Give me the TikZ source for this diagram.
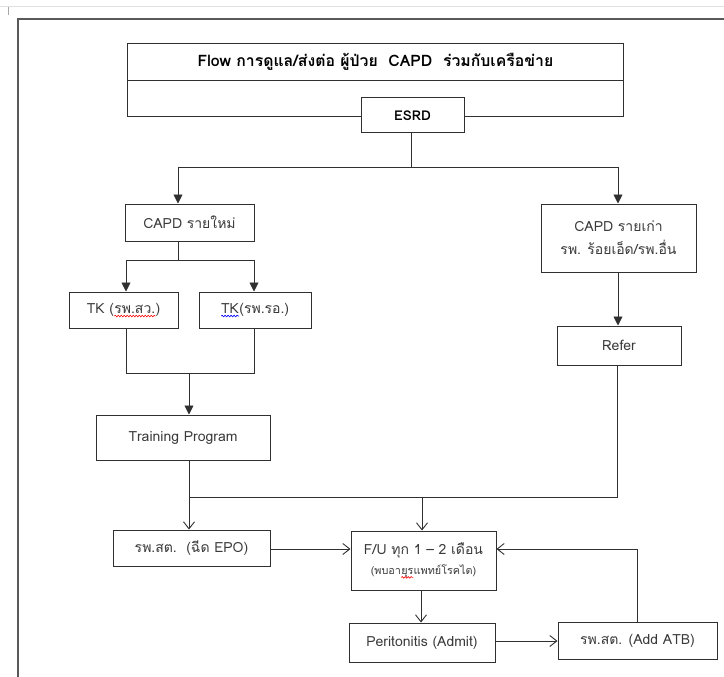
\documentclass[tikz,border=0pt]{standalone}
\usepackage{fontspec}
\setmainfont[Script=Thai]{Loma}
\usetikzlibrary{arrows.meta,decorations.pathmorphing}
\definecolor{ln}{HTML}{303030}
\definecolor{tx}{HTML}{3A3A3A}
\newcommand\spellmark[2]{\tikz[baseline=(sm.base),x=1pt,y=1pt]{\node[inner sep=0pt,outer sep=0pt,draw=none,fill=none,minimum width=0pt,minimum height=0pt](sm){#2};\draw[draw=#1,fill=none,line width=0.6pt,decorate,decoration={snake,amplitude=0.8pt,segment length=3pt}]([yshift=-3pt]sm.base west)--([yshift=-3pt]sm.base east);}}
\tikzset{
  box/.style={draw=ln, line width=1pt, fill=white, inner sep=0pt, text=tx, align=center, font=\fontsize{14}{17}\selectfont},
  conn/.style={draw=ln, line width=0.9pt},
  tri/.style={conn, -{Triangle[length=9pt,width=9pt]}},
  openarr/.style={conn, -{Straight Barb[length=7pt,width=11pt]}}
}
\begin{document}
\begin{tikzpicture}[x=1pt,y=-1pt]
\useasboundingbox (0,0) rectangle (724,677);
% page decoration
\draw[gray!25, line width=1pt] (0,7) coordinate (g0) -- (724,7) coordinate (g1);
\draw[gray!70, line width=0.8pt] (8,7) coordinate (t0) -- (8,15) coordinate (t1);
\draw[gray!70!black, line width=1.1pt] (724,19) coordinate (f0) -- (18,19) coordinate (f1) -- (18,677) coordinate (f2);
% title box
\node[box, minimum width=496pt, minimum height=73pt, anchor=north west] (title) at (127,43) {};
\coordinate (dv) at (0,80);
\draw[conn] (title.west |- dv) -- (title.east |- dv);
\node[text=black, font=\fontsize{15.8}{19}\selectfont\bfseries] (ttl) at (375.5,61.5) {Flow การดูแล/ส่งต่อ ผู้ป่วย\ \ CAPD\ \ ร่วมกับเครือข่าย};
\node[box, font=\fontsize{13.5}{16}\selectfont\bfseries, text=black, minimum width=103pt, minimum height=35pt] (esrd) at (412.5,115.5) {ESRD};
% boxes
\node[box, minimum width=129pt, minimum height=37pt] (capdnew) at (189.5,222.5) {CAPD รายใหม่};
\node[box, minimum width=109pt, minimum height=36pt] (tk1) at (123.5,310) {TK (\spellmark{red}{รพ.สว.})};
\node[box, minimum width=112pt, minimum height=36pt] (tk2) at (255,310) {\spellmark{blue}{TK}(รพ.รอ.)};
\node[box, minimum width=174pt, minimum height=45pt] (training) at (183,437.5) {Training Program};
\node[box, minimum width=155pt, minimum height=68pt] (capdold) at (618.5,238) {CAPD รายเก่า\\[6pt]รพ. ร้อยเอ็ด/รพ.อื่น};
\node[box, minimum width=124pt, minimum height=39pt] (refer) at (619,345.5) {Refer};
\node[box, minimum width=157pt, minimum height=36pt] (epo) at (191.5,548) {รพ.สต.\ \ (ฉีด EPO)};
\node[box, minimum width=145pt, minimum height=59pt] (fu) at (423.5,560.5) {F/U ทุก 1 – 2 เดือน\\[3pt]{\fontsize{10.8}{13}\selectfont (พบอา\spellmark{red}{ยุร}แพทย์โรคไต)}};
\node[box, minimum width=146pt, minimum height=39pt] (perit) at (422,642.5) {Peritonitis (Admit)};
\node[box, minimum width=159pt, minimum height=37pt] (atb) at (637.5,640.5) {รพ.สต. (Add ATB)};
% connectors top
\coordinate (j0) at (411,167);
\coordinate (jL) at (178,167);
\coordinate (jR) at (618,167);
\draw[conn] (esrd.south -| j0) -- (j0);
\draw[conn] (jL) -- (jR);
\draw[tri] (jL) -- (jL |- capdnew.north);
\draw[tri] (jR) -- (jR |- capdold.north);
\coordinate (k0) at (178,260);
\coordinate (kL) at (126,260);
\coordinate (kR) at (254,260);
\draw[conn] (k0 |- capdnew.south) -- (k0);
\draw[conn] (kL) -- (kR);
\draw[tri] (kL) -- (kL |- tk1.north);
\draw[tri] (kR) -- (kR |- tk2.north);
\coordinate (mL) at (126,373);
\coordinate (mR) at (254,373);
\coordinate (m0) at (189,373);
\draw[conn] (mL |- tk1.south) -- (mL) -- (mR) -- (mR |- tk2.south);
\draw[tri] (m0) -- (m0 |- training.north);
\draw[tri] (jR |- capdold.south) -- (jR |- refer.north);
% connectors bottom
\coordinate (pL) at (189,497);
\coordinate (pM) at (422,497);
\coordinate (pR) at (617,497);
\draw[openarr] (pL |- training.south) -- (pL |- epo.north);
\draw[conn] (pL) -- (pR) -- (pR |- refer.south);
\draw[openarr] (pM) -- (pM |- fu.north);
\coordinate (q) at (0,549);
\draw[openarr] (epo.east |- q) -- (fu.west |- q);
\coordinate (r) at (421,0);
\draw[openarr] (r |- fu.south) -- (r |- perit.north);
\coordinate (u) at (0,641);
\draw[openarr] (perit.east |- u) -- (atb.west |- u);
\coordinate (s) at (637,549);
\draw[openarr] (atb.north -| s) -- (s) -- (fu.east |- s);
\end{tikzpicture}
\end{document}
